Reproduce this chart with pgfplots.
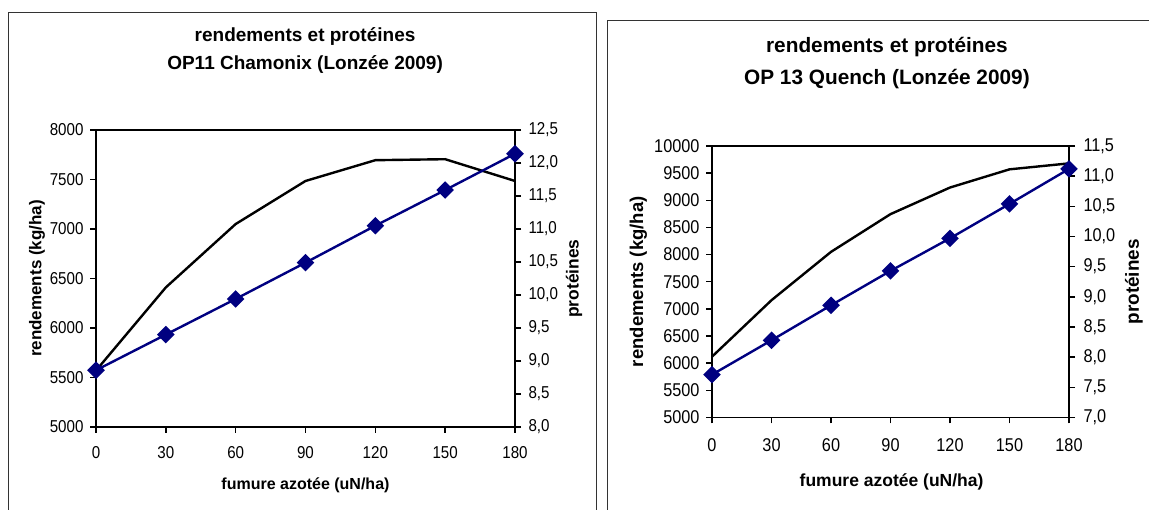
\documentclass[border=0pt]{standalone}
\usepackage{fontspec}
\setmainfont{Liberation Sans}
\newfontfamily\tickfont{Liberation Sans}[FakeStretch=0.88]
\usepackage{pgfplots}
\usepackage{pgfplotstable}
\pgfplotsset{compat=1.18}
\definecolor{navyline}{RGB}{0,0,128}

% rendements (kg/ha) and protéines against fumure azotée (uN/ha)
\pgfplotstableread{
N rend prot
0 5570 8.86
30 6410 9.40
60 7050 9.94
90 7485 10.49
120 7695 11.05
150 7705 11.59
180 7485 12.14
}\chamonix

\pgfplotstableread{
N rend prot
0 6120 7.71
30 7160 8.28
60 8050 8.86
90 8745 9.43
120 9235 9.97
150 9570 10.54
180 9680 11.12
}\quench

\pgfplotsset{
  base/.style={
    scale only axis, anchor=south west, clip=false,
    xmin=0, xmax=180, xtick={0,30,...,180},
    scaled y ticks=false,
    tick align=outside, major tick length=6pt,
    axis line style={line width=1.5pt},
    tick style={line width=1.5pt, black},
    /pgf/number format/assume math mode=true,
    /pgf/number format/1000 sep={},
    ticklabel style={font=\tickfont\fontsize{#1}{#1}\selectfont},
  },
  leftax/.style={base=#1, tick pos=left},
  rightax/.style={base=#1, axis y line*=right, axis x line=none,
    yticklabel style={/pgf/number format/fixed, /pgf/number format/fixed zerofill,
      /pgf/number format/precision=1, /pgf/number format/use comma}},
  yield/.style={black, line width=2.4pt, no marks},
  prot/.style={navyline, line width=2.4pt, mark=square*, mark size=5pt,
    mark options={rotate=45, fill=navyline}},
}

\begin{document}
\begin{tikzpicture}
\useasboundingbox (0,0) rectangle (1149pt,510pt);
\draw[black!80, line width=1.4pt] (8.3pt,-10pt) -- (8.3pt,497.7pt) -- (596.7pt,497.7pt) -- (596.7pt,-10pt);
\draw[black!80, line width=1.4pt] (607.7pt,-10pt) -- (607.7pt,489.3pt) -- (1160pt,489.3pt);

% left chart
\begin{axis}[leftax=17.2, at={(96pt,83pt)}, width=419pt, height=297pt,
  ymin=5000, ymax=8000, ytick={5000,5500,...,8000},
  xticklabel style={yshift=-10pt}, yticklabel style={xshift=-3pt},
  title={rendements et protéines\\OP11 Chamonix (Lonzée 2009)},
  title style={at={(axis description cs:0.499,1.249)}, anchor=center, align=center,
    font=\bfseries\fontsize{19}{28}\selectfont},
  xlabel={fumure azotée (uN/ha)},
  xlabel style={at={(axis description cs:0.5,-0.195)}, anchor=center,
    font=\bfseries\fontsize{16}{19}\selectfont},
  every axis y label/.style={at={(axis description cs:-0.141,0.5)}, rotate=90, anchor=center,
    font=\bfseries\fontsize{17}{20}\selectfont},
  ylabel={rendements (kg/ha)}]
\addplot[yield] table[x=N, y=rend] {\chamonix};
\end{axis}
\begin{axis}[rightax=17.2, at={(96pt,83pt)}, width=419pt, height=297pt,
  ymin=8, ymax=12.5, ytick={8,8.5,9,9.5,10,10.5,11,11.5,12,12.5},
  yticklabel style={xshift=4pt},
  every axis y label/.style={at={(axis description cs:1.141,0.5)}, rotate=90, anchor=center,
    font=\bfseries\fontsize{17.4}{20}\selectfont},
  ylabel={protéines}]
\addplot[prot] table[x=N, y=prot] {\chamonix};
\end{axis}

% right chart
\begin{axis}[leftax=18.5, at={(712pt,92.5pt)}, width=357pt, height=271.5pt,
  ymin=5000, ymax=10000, ytick={5000,5500,...,10000},
  xticklabel style={yshift=-12pt}, yticklabel style={xshift=-3pt},
  title={rendements et protéines\\OP 13 Quench (Lonzée 2009)},
  title style={at={(axis description cs:0.49,1.2836)}, anchor=center, align=center,
    font=\bfseries\fontsize{20.8}{32}\selectfont},
  xlabel={fumure azotée (uN/ha)},
  xlabel style={at={(axis description cs:0.503,-0.2376)}, anchor=center,
    font=\bfseries\fontsize{17.5}{20}\selectfont},
  every axis y label/.style={at={(axis description cs:-0.206,0.5)}, rotate=90, anchor=center,
    font=\bfseries\fontsize{18.5}{22}\selectfont},
  ylabel={rendements (kg/ha)}]
\addplot[yield] table[x=N, y=rend] {\quench};
\end{axis}
\begin{axis}[rightax=18.5, at={(712pt,92.5pt)}, width=357pt, height=271.5pt,
  ymin=7, ymax=11.5, ytick={7,7.5,8,8.5,9,9.5,10,10.5,11,11.5},
  yticklabel style={xshift=5pt},
  every axis y label/.style={at={(axis description cs:1.182,0.5)}, rotate=90, anchor=center,
    font=\bfseries\fontsize{18.9}{22}\selectfont},
  ylabel={protéines}]
\addplot[prot] table[x=N, y=prot] {\quench};
\end{axis}
\end{tikzpicture}
\end{document}
